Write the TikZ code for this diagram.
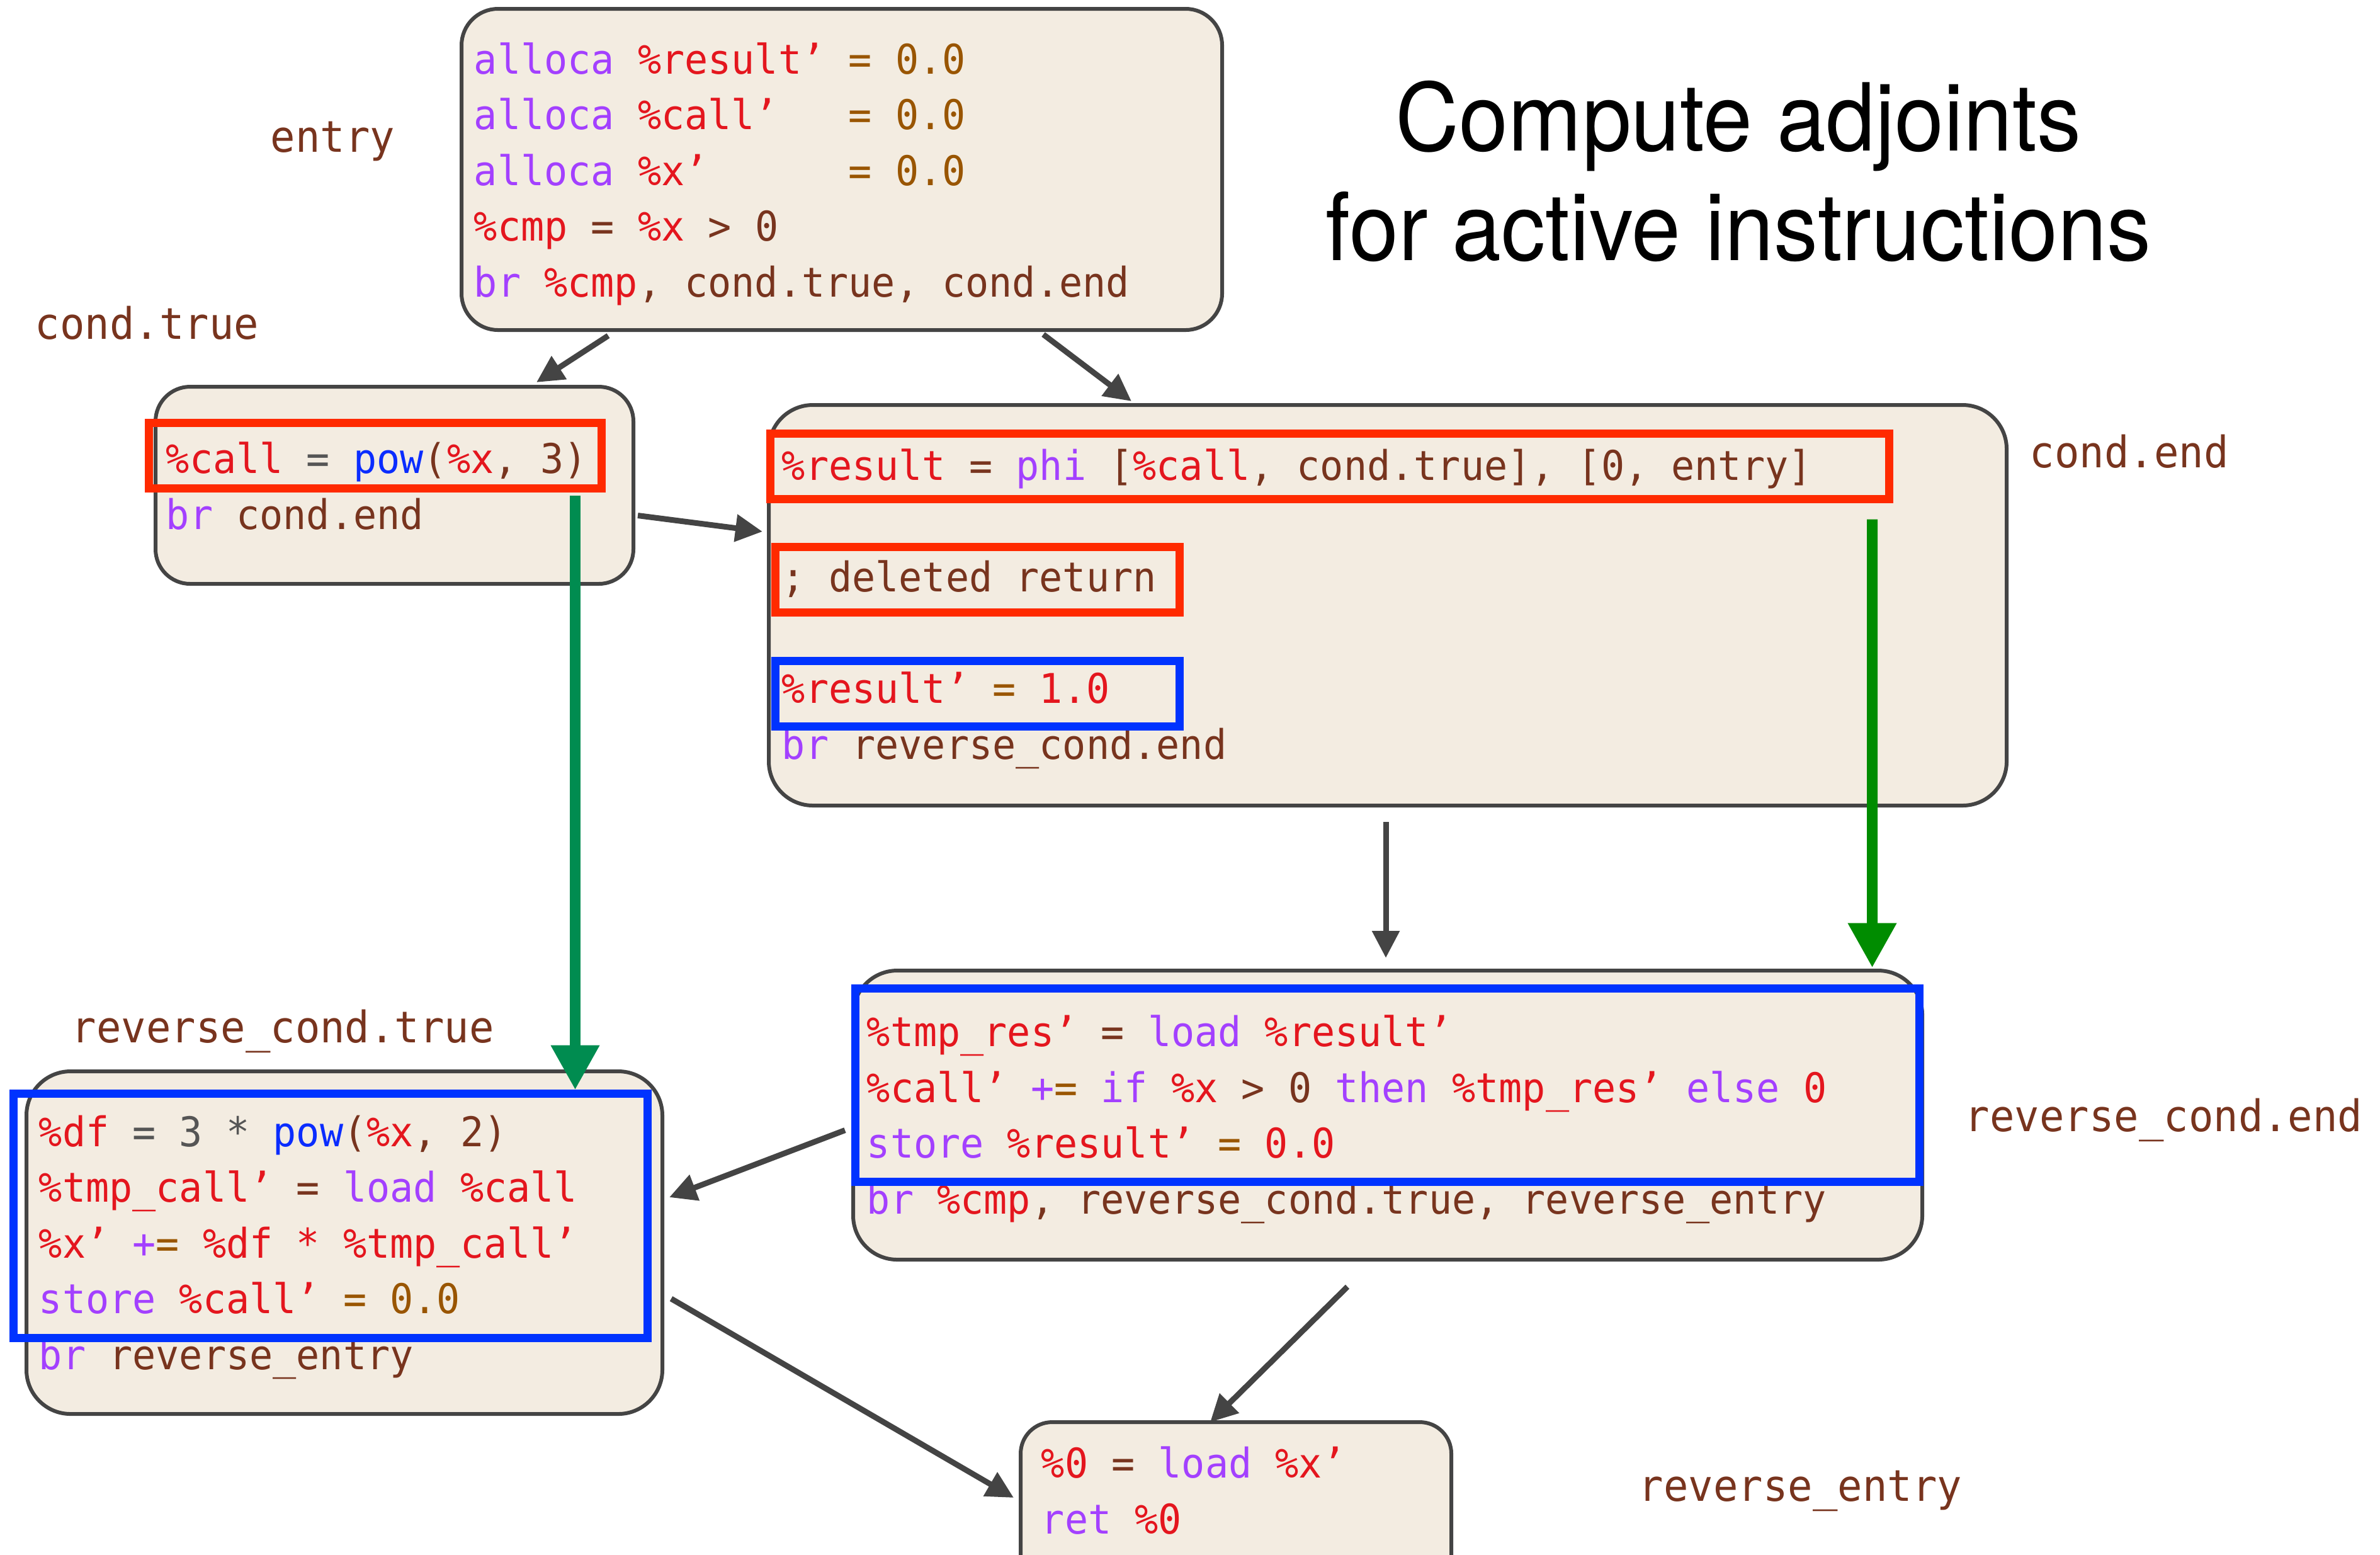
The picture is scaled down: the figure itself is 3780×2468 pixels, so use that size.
\documentclass[tikz,border=0pt]{standalone}
\usepackage{fontspec}
\setmonofont[FakeStretch=0.95]{DejaVu Sans Mono}
\newfontfamily\titlefont[FakeStretch=0.94]{TeX Gyre Heros}
\usetikzlibrary{arrows.meta,fit}

\definecolor{boxfill}{RGB}{243,236,225}
\definecolor{boxline}{RGB}{68,68,68}
\definecolor{markred}{RGB}{255,42,0}
\definecolor{markblue}{RGB}{0,51,255}
\definecolor{callgreen}{RGB}{0,140,80}
\definecolor{resgreen}{RGB}{0,140,0}
\definecolor{irpurple}{RGB}{163,64,255}
\definecolor{irred}{RGB}{228,22,30}
\definecolor{irbrown}{RGB}{120,52,30}
\definecolor{irorange}{RGB}{153,85,0}
\definecolor{irblue}{RGB}{10,44,255}
\definecolor{irgray}{RGB}{85,85,85}

\newcommand{\irkw}[1]{\textcolor{irpurple}{#1}}
\newcommand{\irvar}[1]{\textcolor{irred}{#1}}
\newcommand{\irnum}[1]{\textcolor{irorange}{#1}}
\newcommand{\irfn}[1]{\textcolor{irblue}{#1}}
\newcommand{\irop}[1]{\textcolor{irgray}{#1}}

\tikzset{every picture/.style={line width=0.75pt},
  cfgbox/.style={draw=boxline, fill=boxfill, line width=1.2pt, inner sep=0pt, rounded corners=#1},
  cfgbox/.default=14pt,
  code/.style={anchor=base west, inner sep=0pt, align=left, text=irbrown, font=\ttfamily\fontsize{13}{17.7}\selectfont},
  blocklabel/.style={anchor=base west, inner sep=0pt, text=irbrown, font=\ttfamily\fontsize{13.8}{17}\selectfont},
  redmark/.style={draw=markred, line width=2.6pt, inner sep=0pt},
  bluemark/.style={draw=markblue, line width=2.6pt, inner sep=0pt},
  flow/.style={draw=boxline, line width=1.8pt, -{Triangle[length=8.6pt,width=8.4pt]}},
  adjflow/.style={line width=3.4pt, -{Triangle[length=14.2pt,width=14.6pt]}}
}

\begin{document}
\begin{tikzpicture}[x=0.2pt,y=0.2pt,yscale=-1]
\useasboundingbox (0,0) rectangle (3780,2468);

%Shape: blocks
\node[cfgbox=11.6pt, fit={(733,14) (1941,524)}] (entry) {};
\node[cfgbox=11pt, fit={(247,614) (1006,927)}] (ctrue) {};
\node[cfgbox, fit={(1221,643) (3187,1279)}] (cend) {};
\node[cfgbox, fit={(1355,1541) (3053,2000)}] (rcend) {};
\node[cfgbox, fit={(42,1701) (1052,2245)}] (rctrue) {};
\node[cfgbox=10pt, fit={(1621,2258) (2305,2530)}] (rentry) {};

% Text Node: block code (placed at the baseline of the last line)
\node[code] (entrycode) at (751,471) {\irkw{alloca} \irvar{\%result’} \irnum{= 0.0}\\
\irkw{alloca} \irvar{\%call’}~~~\irnum{= 0.0}\\
\irkw{alloca} \irvar{\%x’}~~~~~~\irnum{= 0.0}\\
\irvar{\%cmp} = \irvar{\%x} > 0\\
\irkw{br} \irvar{\%cmp}, cond.true, cond.end};
\node[code] (ctruecode) at (262,840) {\irvar{\%call} \irop{=} \irfn{pow}(\irvar{\%x}, 3)\\
\irkw{br} cond.end};
\node[code] (cendcode) at (1240,1205) {\irvar{\%result} = \irkw{phi} [\irvar{\%call}, cond.true], [0, entry]\\[17.7pt]
; deleted return\\[17.7pt]
\irvar{\%result’} \irnum{=} \irvar{1.0}\\
\irkw{br} reverse\_cond.end};
\node[code] (rcendcode) at (1375,1927) {\irvar{\%tmp\_res’} = \irkw{load} \irvar{\%result’}\\
\irvar{\%call’} \irkw{+}\irnum{=} \irkw{if} \irvar{\%x} > 0 \irkw{then} \irvar{\%tmp\_res’} \irkw{else} \irvar{0}\\
\irkw{store} \irvar{\%result’} \irnum{=} \irvar{0.0}\\
\irkw{br} \irvar{\%cmp}, reverse\_cond.true, reverse\_entry};
\node[code] (rctruecode) at (60,2174) {\irvar{\%df} \irop{= 3 *} \irfn{pow}(\irvar{\%x}, 2)\\
\irvar{\%tmp\_call’} = \irkw{load} \irvar{\%call}\\
\irvar{\%x’} \irkw{+}\irnum{=} \irvar{\%df * \%tmp\_call’}\\
\irkw{store} \irvar{\%call’} \irnum{= 0.0}\\
\irkw{br} reverse\_entry};
\node[code] (rentrycode) at (1652,2435) {\irvar{\%0} = \irkw{load} \irvar{\%x’}\\
\irkw{ret} \irvar{\%0}};

% Text Node: block names
\node[blocklabel] (lblentry) at (428,241) {entry};
\node[blocklabel] (lblctrue) at (54,538) {cond.true};
\node[blocklabel] (lblcend) at (3222,742) {cond.end};
\node[blocklabel] (lblrctrue) at (112,1655) {reverse\_cond.true};
\node[blocklabel] (lblrcend) at (3119,1796) {reverse\_cond.end};
\node[blocklabel] (lblrentry) at (2601,2383) {reverse\_entry};

% Text Node: heading
\node[anchor=base, align=center, inner sep=0pt, font=\titlefont\fontsize{29.8}{34.8}\selectfont] (heading) at (2761,413) {Compute adjoints\\for active instructions};

%Shape: marked instructions
\node[redmark, fit={(236,671) (955,775)}] (hlcall) {};
\node[redmark, fit={(1223,688) (3000,792)}] (hlphi) {};
\node[redmark, fit={(1231,868) (1873,972)}] (hlret) {};
\node[bluemark, fit={(1231,1049) (1873,1153)}] (hlseed) {};
\node[bluemark, fit={(1358,1569) (3048,1876)}] (hlrcend) {};
\node[bluemark, fit={(21,1736) (1028,2124)}] (hlrctrue) {};

%Straight Lines: control flow
\draw[flow] ([shift={(236,6)}]entry.south west) -- ([shift={(608,-4)}]ctrue.north west);
\draw[flow] ([shift={(927,4)}]entry.south west) -- ([shift={(579,-3)}]cend.north west);
\draw[flow] ([shift={(4,48)}]ctrue.east) -- ([shift={(-7,-117)}]cend.west);
\draw[flow] ([shift={(-3,23)}]cend.south) -- ([shift={(-3,-17)}]rcend.north);
\draw[flow] ([shift={(-10,24)}]rcend.west) -- ([shift={(8,-72)}]rctrue.east);
\draw[flow] ([shift={(11,89)}]rctrue.east) -- ([shift={(-8,-16)}]rentry.west);
\draw[flow] ([shift={(-64,40)}]rcend.south) -- ([shift={(-41,3)}]rentry.north);

%Straight Lines: adjoint flow
\draw[adjflow, callgreen] ([shift={(-48,5)}]hlcall.south east) -- ([shift={(-121,1)}]hlrctrue.north east);
\draw[adjflow, resgreen] ([shift={(-33,26)}]hlphi.south east) -- ([shift={(-81,-26)}]hlrcend.north east);

\end{tikzpicture}
\end{document}
